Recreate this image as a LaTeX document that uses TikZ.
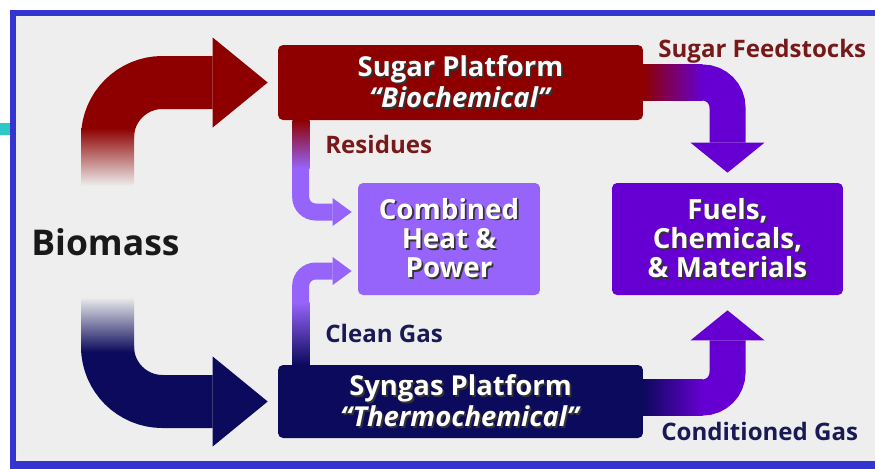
\documentclass[tikz,border=0pt]{standalone}
\usepackage{fontspec}
\setmainfont{Open Sans}
\usetikzlibrary{arrows.meta}

\definecolor{frameblue}{RGB}{52,52,208}
\definecolor{cyanmark}{RGB}{45,200,200}
\definecolor{panelgray}{RGB}{238,238,238}
\definecolor{sugarred}{RGB}{142,0,0}
\definecolor{syngasblue}{RGB}{12,10,92}
\definecolor{chplilac}{RGB}{150,100,250}
\definecolor{fuelpurple}{RGB}{102,0,210}
\definecolor{redtext}{RGB}{120,25,25}
\definecolor{bluetext}{RGB}{25,25,85}

% white box text with a dark drop shadow
\newcommand{\shadowed}[1]{\makebox[0pt][l]{\hspace{1pt}\raisebox{-1pt}{\color{black!80}#1}}#1}

\begin{document}
\begin{tikzpicture}[x=0.02cm, y=-0.02cm,
  platform/.style={rounded corners=0.1cm, text=white, align=center, inner sep=0pt,
    font=\bfseries\fontsize{15.6}{15.5}\selectfont},
  outcome/.style={platform, font=\bfseries\fontsize{15.8}{16.7}\selectfont},
  flowlabel/.style={anchor=base west, inner sep=0pt, font=\bfseries\fontsize{13.7}{15}\selectfont},
  bigflow/.style={line width=1.06cm, rounded corners=1.1cm,
    -{Triangle[length=1.1cm, width=1.8cm, line width=0pt]}},
  sideflow/.style={line width=0.72cm, rounded corners=0.5cm,
    -{Triangle[length=0.6cm, width=1.48cm, line width=0pt]}},
  thinflow/.style={line width=0.34cm, rounded corners=0.3cm,
    -{Triangle[length=0.38cm, width=0.56cm, line width=0pt]}}]

%---------------------------------------
% Frame
%---------------------------------------
\useasboundingbox (0,0) rectangle (875,468);
\fill[panelgray] (16,16) rectangle (880,461);
\fill[frameblue] (10,10) rectangle (880,16);
\fill[frameblue] (10,10) rectangle (16,470);
\fill[frameblue] (10,461) rectangle (880,470);
\fill[cyanmark] (-2,123) rectangle (10,135);

%---------------------------------------
% Boxes
%---------------------------------------
\node[platform, fill=sugarred, minimum width=7.3cm, minimum height=1.5cm]
  (sugar) at (460.5,82.5) {\shadowed{Sugar Platform}\\\shadowed{\textit{``Biochemical''}}};
\node[platform, fill=syngasblue, minimum width=7.3cm, minimum height=1.46cm]
  (syngas) at (460.5,401.5) {\shadowed{Syngas Platform}\\\shadowed{\textit{``Thermochemical''}}};
\node[outcome, fill=chplilac, minimum width=3.64cm, minimum height=2.24cm]
  (chp) at (449,239) {\shadowed{Combined}\\\shadowed{Heat \&}\\\shadowed{Power}};
\node[outcome, fill=fuelpurple, minimum width=4.62cm, minimum height=2.24cm]
  (fuels) at (727.5,239) {\shadowed{Fuels,}\\\shadowed{Chemicals,}\\\shadowed{\& Materials}};

% Labels
\node[anchor=base west, inner sep=0pt, font=\bfseries\fontsize{20.2}{22}\selectfont,
  text=black!90] (biomass) at (31,255) {Biomass};
\node[flowlabel, text=redtext] (residues) at (325,153) {Residues};
\node[flowlabel, text=redtext] (feedstocks) at (658,57) {Sugar Feedstocks};
\node[flowlabel, text=bluetext] (cleangas) at (325,342) {Clean Gas};
\node[flowlabel, text=bluetext] (condgas) at (661,440) {Conditioned Gas};

%---------------------------------------
% Flows
%---------------------------------------
\coordinate (bioup) at (107.5,186);
\coordinate (biodown) at (107.5,297);

% Biomass to the two platforms
\draw[bigflow, sugarred, shorten >=0.2cm] (bioup) |- (sugar.west);
\shade[top color=sugarred, bottom color=panelgray] (81,128) rectangle (134,186);
\draw[bigflow, syngasblue, shorten >=0.2cm] (biodown) |- (syngas.west);
\shade[top color=panelgray, bottom color=syngasblue] (81,297) rectangle (134,352);

% Residues and clean gas to CHP
\draw[thinflow, chplilac, shorten >=0.12cm]
  ([xshift=0.46cm]sugar.south west) |- ([yshift=0.54cm]chp.west);
\shade[top color=sugarred, bottom color=chplilac] (292.5,120) rectangle (309.5,168);
\draw[thinflow, chplilac, shorten >=0.12cm]
  ([xshift=0.46cm]syngas.north west) |- ([yshift=-0.64cm]chp.west);
\shade[top color=chplilac, bottom color=syngasblue] (292.5,302) rectangle (309.5,365);

% Sugar feedstocks and conditioned gas to products
\draw[sideflow, fuelpurple, shorten >=0.2cm] (sugar.east) -| (fuels.north);
\shade[left color=sugarred, middle color=sugarred, right color=fuelpurple]
  (643,64.5) rectangle (702.5,100.5);
\draw[sideflow, fuelpurple, shorten >=0.3cm] ([yshift=0.08cm]syngas.east) -| (fuels.south);
\shade[left color=syngasblue, middle color=syngasblue, right color=fuelpurple]
  (643,379.5) rectangle (702.5,415.5);

\end{tikzpicture}
\end{document}
